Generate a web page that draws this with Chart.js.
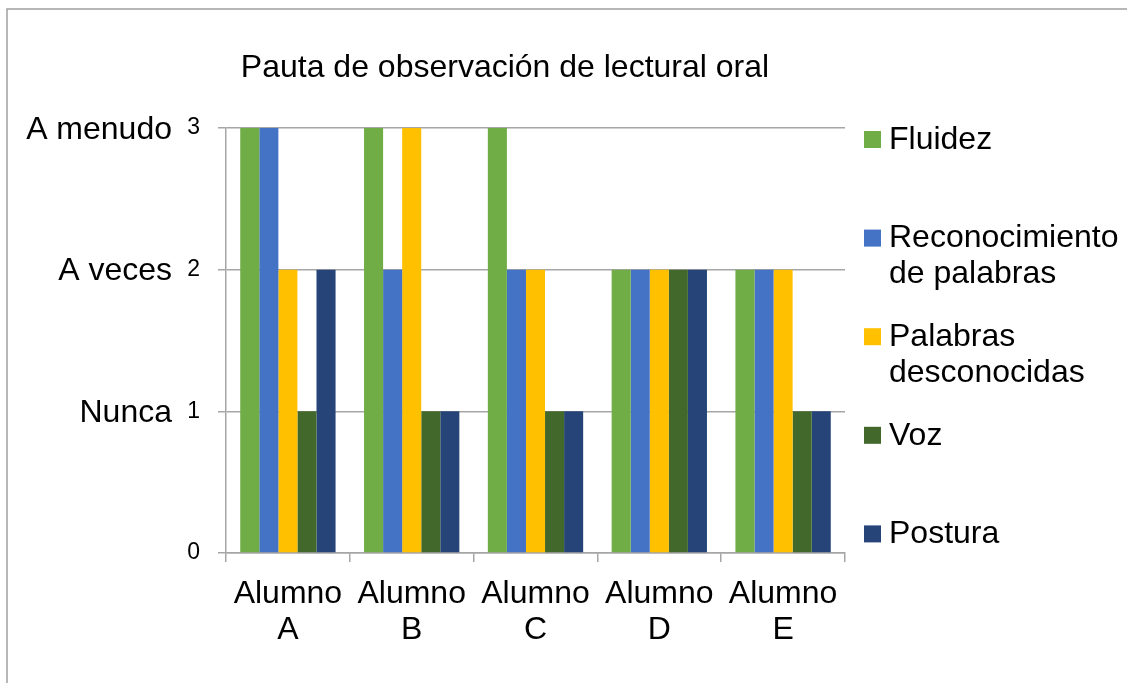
<!DOCTYPE html>
<html>
<head>
<meta charset="utf-8">
<script src="https://cdn.jsdelivr.net/npm/chart.js@4"></script>
<style>
  html, body { margin: 0; padding: 0; background: #fff; }
  #wrap { position: relative; width: 1127px; height: 683px; }
</style>
</head>
<body>
<div id="wrap"><canvas id="grafico"></canvas></div>
<script>
const alumnos = [["Alumno", "A"], ["Alumno", "B"], ["Alumno", "C"], ["Alumno", "D"], ["Alumno", "E"]];
const fluidez = [3, 3, 3, 2, 2];
const reconocimiento = [3, 2, 2, 2, 2];
const desconocidas = [2, 3, 2, 2, 2];
const voz = [1, 1, 1, 2, 1];
const postura = [2, 1, 1, 2, 1];
const nivelesY = [0, 1, 2, 3];
const nombresNivel = { 1: "Nunca", 2: "A veces", 3: "A menudo" };
const titulo = "Pauta de observación de lectural oral";

const FUENTE = "'Liberation Sans', Arial, sans-serif";
const GRIS = "#a6a6a6";

const series = [
  { label: "Fluidez", lineas: ["Fluidez"], data: fluidez, color: "#70ad47" },
  { label: "Reconocimiento de palabras", lineas: ["Reconocimiento", "de palabras"], data: reconocimiento, color: "#4472c4" },
  { label: "Palabras desconocidas", lineas: ["Palabras", "desconocidas"], data: desconocidas, color: "#ffc000" },
  { label: "Voz", lineas: ["Voz"], data: voz, color: "#43682b" },
  { label: "Postura", lineas: ["Postura"], data: postura, color: "#264478" }
];

// marco, titulo, nombres del eje y, leyenda
const extras = {
  id: "extras",
  afterDraw(chart) {
    const ctx = chart.ctx;
    const y = chart.scales.y;
    ctx.save();

    ctx.strokeStyle = "#a0a0a0";
    ctx.lineWidth = 1.5;
    ctx.beginPath();
    ctx.moveTo(7, 683);
    ctx.lineTo(7, 9);
    ctx.lineTo(1127, 9);
    ctx.stroke();

    ctx.fillStyle = "#000";
    ctx.font = "32px " + FUENTE;
    ctx.textAlign = "center";
    ctx.textBaseline = "alphabetic";
    ctx.fillText(titulo, 505, 77);

    ctx.textAlign = "right";
    ctx.textBaseline = "middle";
    for (const v in nombresNivel) {
      ctx.fillText(nombresNivel[v], 172, y.getPixelForValue(Number(v)) + 2);
    }

    ctx.textAlign = "left";
    let yy = 139;
    series.forEach(s => {
      ctx.fillStyle = s.color;
      ctx.fillRect(864, yy - 8, 17, 17);
      ctx.fillStyle = "#000";
      s.lineas.forEach((t, i) => ctx.fillText(t, 889, yy + 1 + i * 36));
      yy += 98.6;
    });
    ctx.restore();
  }
};

new Chart(document.getElementById("grafico"), {
  type: "bar",
  data: {
    labels: alumnos,
    datasets: series.map(s => ({
      label: s.label,
      data: s.data,
      backgroundColor: s.color,
      borderWidth: 0,
      barPercentage: 1,
      categoryPercentage: 0.77
    }))
  },
  options: {
    responsive: true,
    maintainAspectRatio: false,
    animation: false,
    layout: { padding: { left: 0, top: 128, right: 282, bottom: 0 } },
    plugins: { legend: { display: false }, title: { display: false }, tooltip: { enabled: false } },
    scales: {
      x: {
        grid: { drawOnChartArea: false, drawTicks: true, tickLength: 9, color: GRIS, lineWidth: 1.5 },
        border: { color: GRIS, width: 1.5 },
        ticks: { color: "#000", font: { family: FUENTE, size: 32, lineHeight: 1.13 }, padding: 14, maxRotation: 0 },
        afterFit(scale) { scale.height = 130; }
      },
      y: {
        min: 0,
        max: 3,
        afterBuildTicks(scale) { scale.ticks = nivelesY.map(v => ({ value: v })); },
        grid: { color: GRIS, lineWidth: 1.5, tickLength: 8 },
        border: { color: GRIS, width: 1.5 },
        ticks: { color: "#000", font: { family: FUENTE, size: 23 }, padding: 18 },
        afterFit(scale) { scale.width = 226; }
      }
    }
  },
  plugins: [extras]
});
</script>
</body>
</html>
